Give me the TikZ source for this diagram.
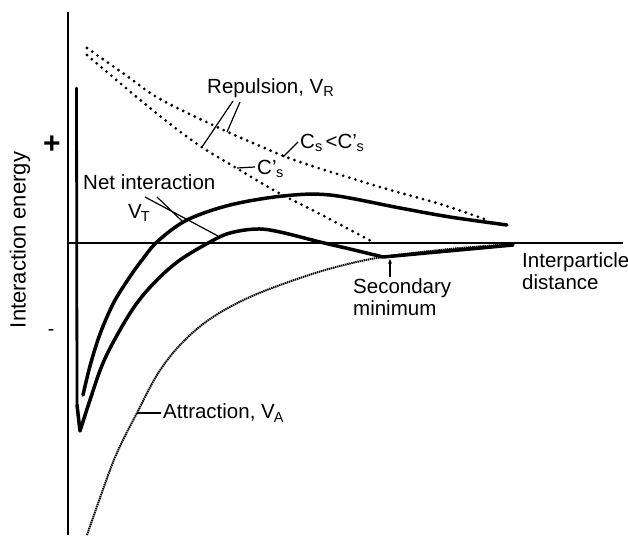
\documentclass[tikz,border=0pt]{standalone}
\usepackage{fontspec}
\setmainfont{Liberation Sans}
\usetikzlibrary{arrows.meta}
\newcommand\lsub[1]{\raisebox{-0.3ex}{\fontsize{14.5}{14.5}\selectfont #1}}
\begin{document}
\begin{tikzpicture}[x=1pt,y=-1pt,
  axisline/.style={line width=1.6pt},
  vtcurve/.style={line width=3.5pt, line join=round, line cap=round},
  repcurve/.style={line width=3.1pt, line cap=round, dash pattern=on 0pt off 6.4pt},
  attcurve/.style={line width=2pt, dash pattern=on 1.4pt off 0.7pt},
  leader/.style={line width=1.2pt},
  lbl/.style={font=\fontsize{20.5}{22}\selectfont, inner sep=0pt, anchor=west}]
\useasboundingbox (0,0) rectangle (628,535);
% axes
\coordinate (ytop) at (68,12);
\coordinate (ybot) at (68,535);
\coordinate (xl) at (68,243);
\coordinate (xr) at (623,243);
\draw[line width=2pt] (ytop) -- (ybot);
\draw[axisline] (xl) -- (xr);
% repulsion curves
\draw[repcurve] plot[smooth, tension=0.6] coordinates {(87,48) (127,76) (160,99) (217,127) (260,146) (300,162) (380,187) (440,204) (487,220)};
\draw[repcurve] plot[smooth, tension=0.6] coordinates {(87,55) (127,89) (165,120) (200,146) (233,166) (277,192) (320,214) (373,242)};
% attraction
\draw[attcurve] plot[smooth, tension=0.6] coordinates {(87,535) (110,470) (123,440) (137,413) (157,375) (180,345) (210,319) (250,297) (300,278) (340,266) (383,257) (450,249) (513,244)};
% net interaction, upper
\draw[vtcurve] plot[smooth, tension=0.55] coordinates {(83,395) (90,366) (100,334) (113,304) (127,281) (142,260) (158,241) (187,220) (230,205) (283,196) (330,195) (400,208) (450,217) (507,225)};
% net interaction, lower
\draw[line width=2.8pt, line cap=round] (76.5,88) -- (77,405);
\draw[vtcurve] (77,405) -- (80,431) -- plot[smooth, tension=0.6] coordinates {(80,431) (90,400) (103,363) (120,330) (137,303) (157,280) (180,260) (210,242) (230,233) (257,229) (280,232) (320,242) (350,249) (383,257)} -- (513,245);
% labels
\node[lbl] (rep) at (207,88) {Repulsion, V\lsub{R}};
\node[lbl] (cscmp) at (300,143) {C\lsub{s}\,<C'\kern-0.5pt\lsub{s}};
\node[lbl] (csp) at (257,169) {C'\kern-0.5pt\lsub{s}};
\node[lbl] (net) at (83,182) {Net interaction};
\node[lbl] (vt) at (128,213) {V\kern-1pt\lsub{T}};
\node[lbl] (att) at (163,413) {Attraction, V\kern-1pt\lsub{A}};
\node[lbl, align=left] (sec) at (353,297) {Secondary\\minimum};
\node[lbl, align=left] (dist) at (522,271) {Interparticle\\distance};
\node[inner sep=0pt, font=\fontsize{30}{30}\selectfont\bfseries] (plus) at (52,145) {+};
\node[inner sep=0pt, font=\fontsize{19.5}{21}\selectfont] (minus) at (51,333) {-};
\node[inner sep=0pt, font=\fontsize{22}{24}\selectfont, rotate=90] (ylab) at (20,240) {Interaction energy};
% leaders
\coordinate (r1a) at (233,101); \coordinate (r1b) at (202,147);
\coordinate (r2a) at (240,102); \coordinate (r2b) at (227,132);
\draw[leader] (r1a) -- (r1b);
\draw[leader] (r2a) -- (r2b);
\coordinate (c1a) at (298,142); \coordinate (c1b) at (283,157);
\draw[leader] (c1a) -- (c1b);
\coordinate (c2a) at (255,167); \coordinate (c2b) at (237,168);
\draw[leader] (c2a) -- (c2b);
\coordinate (v1a) at (145,197); \coordinate (v1b) at (218,236);
\coordinate (v2a) at (157,197); \coordinate (v2b) at (182,221);
\draw[leader] (v1a) -- (v1b);
\draw[leader] (v2a) -- (v2b);
\coordinate (a1) at (161,413); \coordinate (a2) at (137,413);
\draw[leader] (a1) -- (a2);
\coordinate (s1) at (390,277); \coordinate (s2) at (390,259);
\draw[leader, -{Stealth[length=5pt,width=4pt]}] (s1) -- (s2);
\end{tikzpicture}
\end{document}
